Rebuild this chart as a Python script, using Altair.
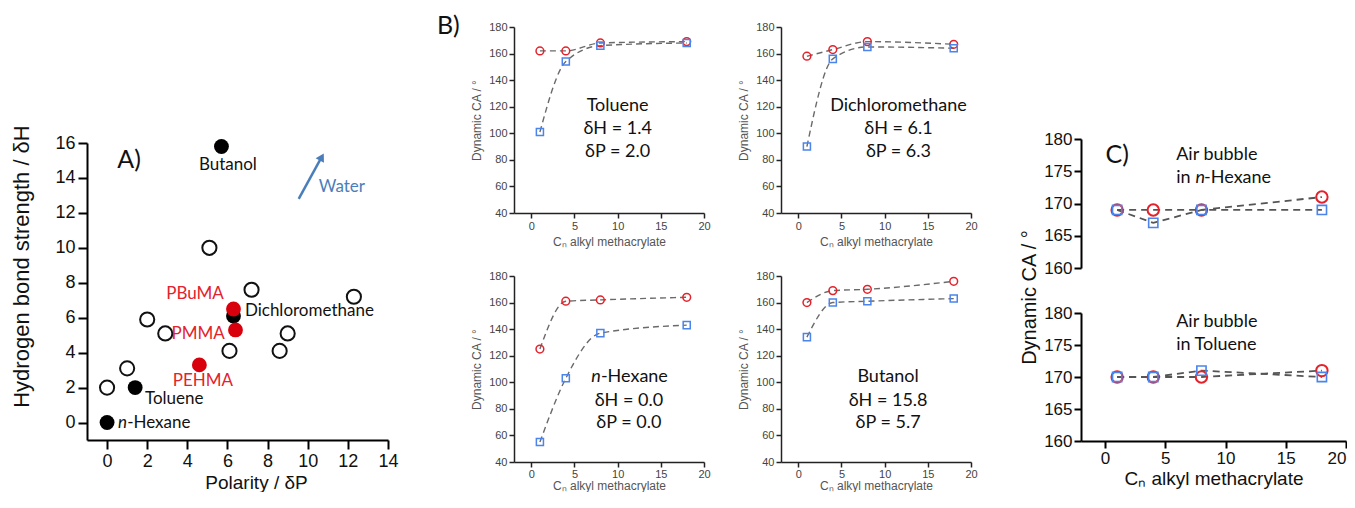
import altair as alt
import pandas as pd

# ---------------- Panel A data ----------------
a_open_dp = [0.0, 1.0, 2.0, 2.9, 5.1, 6.1, 7.2, 8.6, 9.0, 12.3]
a_open_dh = [2.0, 3.1, 5.9, 5.1, 10.0, 4.1, 7.6, 4.1, 5.1, 7.2]
a_solvent_dp = [5.7, 1.4, 0.0, 6.3]
a_solvent_dh = [15.8, 2.0, 0.0, 6.1]
a_polymer_dp = [6.3, 6.4, 4.6]
a_polymer_dh = [6.5, 5.3, 3.3]
a_x_ticks = [0, 2, 4, 6, 8, 10, 12, 14]
a_y_ticks = [0, 2, 4, 6, 8, 10, 12, 14, 16]

# ---------------- Panel B data ----------------
cn = [1, 4, 8, 18]
tol_circle = [162, 162, 168, 169]
tol_square = [101, 154, 166, 168]
dcm_circle = [158, 163, 169, 167]
dcm_square = [90, 156, 165, 164]
hex_circle = [125, 161, 162, 164]
hex_square = [55, 103, 137, 143]
but_circle = [160, 169, 170, 176]
but_square = [134, 160, 161, 163]
b_x_ticks = [0, 5, 10, 15, 20]
b_y_ticks = [40, 60, 80, 100, 120, 140, 160, 180]

# ---------------- Panel C data ----------------
c_hex_circle = [169, 169, 169, 171]
c_hex_square = [169, 167, 169, 169]
c_tol_circle = [170, 170, 170, 171]
c_tol_square = [170, 170, 171, 170]
c_y_ticks = [160, 165, 170, 175, 180]

FA = "Liberation Sans"
FT = "Lato"
RED = "#e4222b"
RED_A = "#d8000c"
BLUE = "#4a84ec"
WATER = "#4a7ebb"
GREY = "#6a6a6a"


def xy_df(xs, ys):
    return pd.DataFrame({"x": xs, "y": ys})


def lab_df(xs, ys, ts):
    return pd.DataFrame({"x": xs, "y": ys, "t": ts})


def text(df, X, Y, align="center", size=18, color="#111", style="normal"):
    return alt.Chart(df).mark_text(
        align=align, baseline="middle", font=FT, fontSize=size, color=color, fontStyle=style
    ).encode(x=X, y=Y, text="t:N")


def spacer(w, h):
    return alt.Chart(pd.DataFrame({"a": [0]})).mark_rule(opacity=0).encode(
        x=alt.value(0), y=alt.value(0), y2=alt.value(1)
    ).properties(width=w, height=h)


# ---------------- Panel A ----------------
axA = dict(grid=False, domainColor="#000", domainWidth=2, tickColor="#000", tickWidth=2, tickSize=9,
           labelFont=FA, labelFontSize=18, labelColor="#111", labelPadding=3, labelFlush=False,
           labelOverlap=False, titleFont=FA, titleFontWeight="normal", titleColor="#111")
XA = alt.X("x:Q", scale=alt.Scale(domain=[-1, 14], nice=False, zero=False),
           axis=alt.Axis(values=a_x_ticks, title="Polarity / δP", titleFontSize=19, titlePadding=3,
                         titleX=169, **axA))
YA = alt.Y("y:Q", scale=alt.Scale(domain=[-1, 16], nice=False, zero=False),
           axis=alt.Axis(values=a_y_ticks, title="Hydrogen bond strength / δH", titleFontSize=22,
                         titlePadding=21, titleY=123, **axA))

a_layers = [
    alt.Chart(xy_df(a_open_dp, a_open_dh)).mark_point(
        shape="circle", filled=False, color="#111", strokeWidth=2, size=200, opacity=1).encode(x=XA, y=YA),
    alt.Chart(xy_df(a_solvent_dp, a_solvent_dh)).mark_point(
        shape="circle", filled=True, color="#000", size=220, opacity=1).encode(x=XA, y=YA),
    alt.Chart(xy_df(a_polymer_dp, a_polymer_dh)).mark_point(
        shape="circle", filled=True, color=RED_A, size=220, opacity=1).encode(x=XA, y=YA),
    # arrow to "Water"
    alt.Chart(pd.DataFrame({"x": [9.55], "y": [12.8], "x2": [10.65], "y2": [15.1]})).mark_rule(
        color=WATER, strokeWidth=2.5).encode(x=XA, y=YA, x2="x2:Q", y2="y2:Q"),
    alt.Chart(xy_df([10.7], [15.2])).mark_point(
        shape="triangle-up", filled=True, color=WATER, size=90, angle=29, opacity=1).encode(x=XA, y=YA),
    text(lab_df([1.1], [15.0], ["A)"]), XA, YA, "center", 25),
    text(lab_df([6.02], [14.75], ["Butanol"]), XA, YA, "center", 17),
    text(lab_df([6.87, 1.89], [6.4, 1.37], ["Dichloromethane", "Toluene"]), XA, YA, "left", 17),
    text(lab_df([1.0], [0.0], ["n"]), XA, YA, "right", 17, style="italic"),
    text(lab_df([1.0], [0.0], ["-Hexane"]), XA, YA, "left", 17),
    text(lab_df([10.55], [13.5], ["Water"]), XA, YA, "left", 17, color=WATER),
    text(lab_df([5.82, 5.87], [7.37, 5.09], ["PBuMA", "PMMA"]), XA, YA, "right", 17, color=RED),
    text(lab_df([4.78], [2.4], ["PEHMA"]), XA, YA, "center", 17, color=RED),
]
panelA = alt.layer(*a_layers).properties(width=301, height=297)

# ---------------- Panel B ----------------
axB = dict(grid=False, domainColor="#222", domainWidth=1.5, tickColor="#222", tickWidth=1.5, tickSize=5,
           labelFont=FA, labelFontSize=11, labelColor="#444", labelFlush=False,
           labelOverlap=False, titleFont=FA, titleFontSize=12, titleFontWeight="normal",
           titleColor="#555")


def b_panel(circ, sq, label_specs, xlab_pad, xtitle_pad):
    XB = alt.X("x:Q", scale=alt.Scale(domain=[-2, 20], nice=False, zero=False),
               axis=alt.Axis(values=b_x_ticks, title="Cₙ alkyl methacrylate", labelPadding=xlab_pad,
                             titlePadding=xtitle_pad, **axB))
    YB = alt.Y("y:Q", scale=alt.Scale(domain=[40, 180], nice=False, zero=False),
               axis=alt.Axis(values=b_y_ticks, title="Dynamic CA / °", labelPadding=2, titlePadding=5,
                             **axB))
    dc = xy_df(cn, circ)
    ds = xy_df(cn, sq)
    layers = [
        alt.Chart(dc).mark_line(interpolate="monotone", strokeDash=[6, 4], color=GREY,
                                strokeWidth=1.4).encode(x=XB, y=YB),
        alt.Chart(ds).mark_line(interpolate="monotone", strokeDash=[6, 4], color=GREY,
                                strokeWidth=1.4).encode(x=XB, y=YB),
        alt.Chart(dc).mark_point(shape="circle", filled=False, color=RED, size=60, strokeWidth=1.5,
                                 opacity=1).encode(x=XB, y=YB),
        alt.Chart(ds).mark_point(shape="square", filled=False, color=BLUE, size=50, strokeWidth=1.5,
                                 opacity=1).encode(x=XB, y=YB),
    ]
    for df, align, size, style in label_specs:
        layers.append(text(df, XB, YB, align, size, style=style))
    return alt.layer(*layers).properties(width=190, height=186)


TL = b_panel(tol_circle, tol_square, [
    (lab_df([10, 10, 10], [120.6, 103.3, 86], ["Toluene", "δH = 1.4", "δP = 2.0"]), "center", 18, "normal"),
    (lab_df([-9.6], [181], ["B)"]), "center", 25, "normal"),
], 2, 5)
TR = b_panel(dcm_circle, dcm_square, [
    (lab_df([11.6, 11.6, 11.6], [120.6, 103.3, 86], ["Dichloromethane", "δH = 6.1", "δP = 6.3"]),
     "center", 18, "normal"),
], 2, 5)
BL = b_panel(hex_circle, hex_square, [
    (lab_df([8.06], [104], ["n"]), "right", 18, "italic"),
    (lab_df([8.06], [104], ["-Hexane"]), "left", 18, "normal"),
    (lab_df([11.3, 11.3], [86, 69], ["δH = 0.0", "δP = 0.0"]), "center", 18, "normal"),
], 1, 1)
BR = b_panel(but_circle, but_square, [
    (lab_df([10.4, 10.4, 10.4], [104, 86, 69], ["Butanol", "δH = 15.8", "δP =  5.7"]),
     "center", 18, "normal"),
], 1, 1)

# ---------------- Panel C ----------------
axC = dict(grid=False, domainColor="#000", domainWidth=2, tickColor="#000", tickWidth=2, tickSize=7,
           labelFont=FA, labelFontSize=17, labelColor="#111", labelPadding=2,
           labelOverlap=False, titleFont=FA, titleFontWeight="normal", titleColor="#111")
XC_scale = alt.Scale(domain=[-2, 20], nice=False, zero=False)
YC_scale = alt.Scale(domain=[160, 180], nice=False, zero=False)
XC_top = alt.X("x:Q", scale=XC_scale, axis=None)
XC_bot = alt.X("x:Q", scale=XC_scale,
               axis=alt.Axis(values=b_x_ticks, title="Cₙ alkyl methacrylate", titleFontSize=19,
                             titlePadding=3, labelFlush=1, **axC))
YC_top = alt.Y("y:Q", scale=YC_scale,
               axis=alt.Axis(values=c_y_ticks, title="Dynamic CA / °", titleFontSize=20, titlePadding=4,
                             titleY=158, labelFlush=False, **axC))
YC_bot = alt.Y("y:Q", scale=YC_scale, axis=alt.Axis(values=c_y_ticks, title=None, labelFlush=False, **axC))


def c_panel(circ, sq, X, Y, label_specs, h):
    dc = xy_df(cn, circ)
    ds = xy_df(cn, sq)
    layers = [
        alt.Chart(dc).mark_line(strokeDash=[7, 5], color="#555", strokeWidth=1.8).encode(x=X, y=Y),
        alt.Chart(ds).mark_line(strokeDash=[7, 5], color="#555", strokeWidth=1.8).encode(x=X, y=Y),
        alt.Chart(dc).mark_point(shape="circle", filled=False, color=RED, size=130, strokeWidth=2,
                                 opacity=1).encode(x=X, y=Y),
        alt.Chart(ds).mark_point(shape="square", filled=False, color=BLUE, size=85, strokeWidth=1.6,
                                 opacity=1).encode(x=X, y=Y),
    ]
    for df, align, size, style in label_specs:
        layers.append(text(df, X, Y, align, size, style=style))
    return alt.layer(*layers).properties(width=265, height=h)


Ctop = c_panel(c_hex_circle, c_hex_square, XC_top, YC_top, [
    (lab_df([1.0], [177.5], ["C)"]), "center", 25, "normal"),
    (lab_df([5.9, 5.9], [177.5, 174], ["Air bubble", "in"]), "left", 18, "normal"),
    (lab_df([7.5], [174], ["n"]), "left", 18, "italic"),
    (lab_df([8.22], [174], ["-Hexane"]), "left", 18, "normal"),
], 129)
Cbot = c_panel(c_tol_circle, c_tol_square, XC_bot, YC_bot, [
    (lab_df([5.9, 5.9], [178.6, 175], ["Air bubble", "in Toluene"]), "left", 18, "normal"),
], 128)

# ---------------- Layout ----------------
colA = alt.vconcat(spacer(1, 116), panelA, spacing=0, bounds="flush")
colB = alt.concat(TL, TR, BL, BR, columns=2, spacing={"row": 63, "column": 77}, bounds="flush")
colC = alt.vconcat(spacer(1, 67), Ctop, Cbot, spacing=45, bounds="flush")
left = alt.hconcat(colA, colB, spacing=37)
chart = alt.hconcat(left, colC, spacing=41).properties(
    padding={"left": 2, "top": 5, "right": 0, "bottom": 0}
).configure_view(stroke=None)

chart.save("out.html", embed_options={"renderer": "svg", "actions": False})
